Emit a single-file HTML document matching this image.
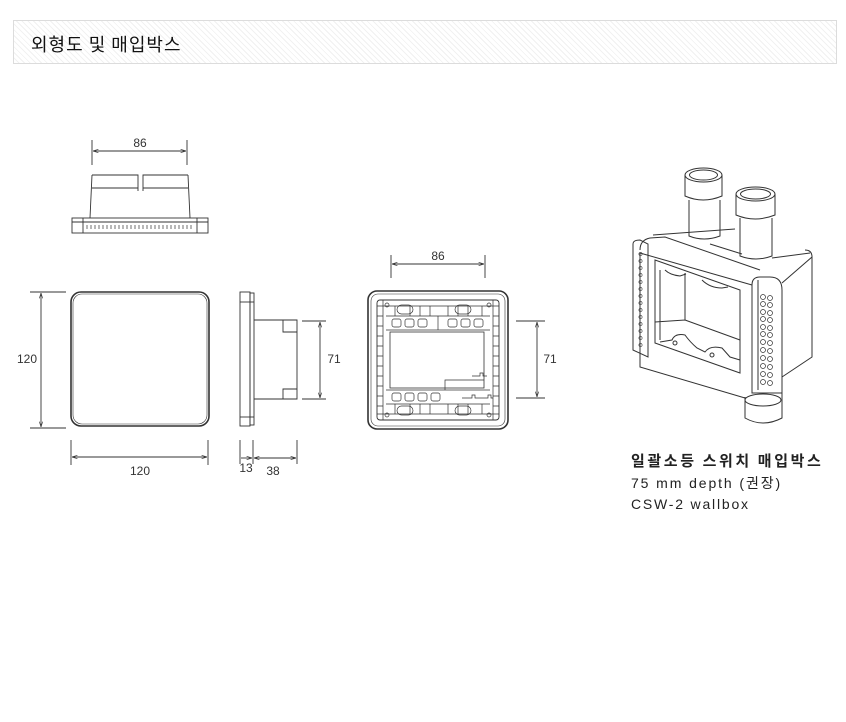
<!DOCTYPE html>
<html><head><meta charset="utf-8"><style>
html,body{margin:0;padding:0;background:#fff;}
body{width:846px;height:722px;position:relative;overflow:hidden;font-family:"Liberation Sans","Noto Sans CJK KR",sans-serif;}
.hdr{position:absolute;left:13px;top:20px;width:822px;height:42px;border:1px solid #dcdcdc;
background:repeating-linear-gradient(45deg,#fff 0 3px,#f1f1f1 3px 4px);}
.hdr span{position:absolute;left:17px;top:10px;font-size:18px;letter-spacing:1px;color:#111;font-family:"Noto Sans CJK KR",sans-serif;}
.cap{position:absolute;left:631px;color:#222;white-space:nowrap;}
</style></head><body>
<div class="hdr"><span>외형도 및 매입박스</span></div>
<svg width="846" height="722" style="position:absolute;left:0;top:0" fill="none" stroke="#333" stroke-width="0.9" font-family="Liberation Sans, sans-serif">
<defs><marker id="a" viewBox="0 0 8 8" refX="8" refY="4" markerWidth="6" markerHeight="6" orient="auto-start-reverse"><path d="M0,1.5 L8,4 L0,6.5" fill="none" stroke="#333"/></marker></defs>
<!-- top view -->
<line x1="92" y1="140" x2="92" y2="165"/><line x1="187" y1="140" x2="187" y2="165"/>
<line x1="93" y1="151" x2="186" y2="151" marker-start="url(#a)" marker-end="url(#a)"/>
<text x="140" y="147" font-size="12" fill="#333" stroke="none" text-anchor="middle">86</text>
<path d="M92,175 H138 V191 M143,191 V175 H188 M92,175 L90,218 M188,175 L190,218 M92,188 H138 M143,188 H188"/>
<rect x="72" y="218" width="136" height="15"/>
<line x1="72" y1="222" x2="208" y2="222"/>
<line x1="83" y1="218" x2="83" y2="233"/><line x1="197" y1="218" x2="197" y2="233"/>
<g stroke-width="0.7">
<path d="M87,225v4 M91,225v4 M95,225v4 M99,225v4 M103,225v4 M107,225v4 M111,225v4 M115,225v4 M119,225v4 M123,225v4 M127,225v4 M131,225v4 M135,225v4 M139,225v4 M143,225v4 M147,225v4 M151,225v4 M155,225v4 M159,225v4 M163,225v4 M167,225v4 M171,225v4 M175,225v4 M179,225v4 M183,225v4 M187,225v4 M191,225v4"/>
</g>
<!-- front -->
<rect x="71" y="292" width="138" height="134" rx="10" stroke-width="1.6"/>
<rect x="73" y="294" width="134" height="130" rx="9" stroke-width="0.6"/>
<line x1="30" y1="292" x2="66" y2="292"/><line x1="30" y1="428" x2="66" y2="428"/>
<line x1="41" y1="293" x2="41" y2="427" marker-start="url(#a)" marker-end="url(#a)"/>
<text x="27" y="363" font-size="12" fill="#333" stroke="none" text-anchor="middle">120</text>
<line x1="71" y1="440" x2="71" y2="465"/><line x1="208" y1="440" x2="208" y2="465"/>
<line x1="72" y1="457" x2="207" y2="457" marker-start="url(#a)" marker-end="url(#a)"/>
<text x="140" y="475" font-size="12" fill="#333" stroke="none" text-anchor="middle">120</text>
<!-- side -->
<rect x="240" y="292" width="10" height="134"/><rect x="250" y="293" width="4" height="132"/>
<line x1="240" y1="302" x2="254" y2="302"/><line x1="240" y1="417" x2="254" y2="417"/>
<path d="M254,320 H297 V399 H254 M283,320 V332 H297 M283,399 V389 H297"/>
<line x1="302" y1="321" x2="326" y2="321"/><line x1="302" y1="399" x2="326" y2="399"/>
<line x1="320" y1="322" x2="320" y2="398" marker-start="url(#a)" marker-end="url(#a)"/>
<text x="334" y="363" font-size="12" fill="#333" stroke="none" text-anchor="middle">71</text>
<line x1="240" y1="440" x2="240" y2="464"/><line x1="253" y1="440" x2="253" y2="464"/><line x1="297" y1="440" x2="297" y2="464"/>
<line x1="241" y1="458" x2="252" y2="458" marker-end="url(#a)"/>
<line x1="254" y1="458" x2="296" y2="458" marker-start="url(#a)" marker-end="url(#a)"/>
<text x="246" y="472" font-size="12" fill="#333" stroke="none" text-anchor="middle">13</text>
<text x="273" y="475" font-size="12" fill="#333" stroke="none" text-anchor="middle">38</text>
<!-- back -->
<line x1="391" y1="255" x2="391" y2="278"/><line x1="485" y1="255" x2="485" y2="278"/>
<line x1="392" y1="264" x2="484" y2="264" marker-start="url(#a)" marker-end="url(#a)"/>
<text x="438" y="260" font-size="12" fill="#333" stroke="none" text-anchor="middle">86</text>
<rect x="368" y="291" width="140" height="138" rx="9" stroke-width="1.6"/>
<rect x="371" y="294" width="134" height="132" rx="7" stroke-width="0.6"/>
<rect x="377" y="300" width="122" height="120" rx="3"/>
<g stroke-width="0.7">
<path d="M383,300 V420 M493,300 V420 M377,306 H499 M377,414 H499"/>
<path d="M377,316h6 M377,326h6 M377,336h6 M377,346h6 M377,356h6 M377,366h6 M377,376h6 M377,386h6 M377,396h6 M377,406h6"/>
<path d="M493,316h6 M493,326h6 M493,336h6 M493,346h6 M493,356h6 M493,366h6 M493,376h6 M493,386h6 M493,396h6 M493,406h6"/>
<path d="M386,316h104 M386,330h104 M386,390h104 M386,404h104"/>
<path d="M395,306v10 M410,306v10 M420,306v10 M430,306v10 M448,306v10 M458,306v10 M468,306v10 M482,306v10"/>
<path d="M395,404v10 M410,404v10 M420,404v10 M430,404v10 M448,404v10 M458,404v10 M468,404v10 M482,404v10"/>
<rect x="392" y="319" width="9" height="8" rx="2"/><rect x="405" y="319" width="9" height="8" rx="2"/><rect x="418" y="319" width="9" height="8" rx="2"/>
<rect x="448" y="319" width="9" height="8" rx="2"/><rect x="461" y="319" width="9" height="8" rx="2"/><rect x="474" y="319" width="9" height="8" rx="2"/>
<line x1="438" y1="316" x2="438" y2="330"/>
<rect x="392" y="393" width="9" height="8" rx="2"/><rect x="405" y="393" width="9" height="8" rx="2"/><rect x="418" y="393" width="9" height="8" rx="2"/><rect x="431" y="393" width="9" height="8" rx="2"/>
<path d="M445,390 V380 H484"/>
<path d="M462,398h10v-3h3v3h4 M478,398h10v-3h3v3h2 M472,376h8v-3h3v3h4"/>
<rect x="397" y="305" width="16" height="9" rx="4.5"/><rect x="455" y="305" width="16" height="9" rx="4.5"/>
<rect x="397" y="406" width="16" height="9" rx="4.5"/><rect x="455" y="406" width="16" height="9" rx="4.5"/>
<circle cx="387" cy="305" r="2"/><circle cx="489" cy="305" r="2"/><circle cx="387" cy="415" r="2"/><circle cx="489" cy="415" r="2"/>
</g>
<rect x="390" y="332" width="94" height="56" stroke-width="0.8"/>
<line x1="516" y1="321" x2="545" y2="321"/><line x1="516" y1="398" x2="545" y2="398"/>
<line x1="537" y1="322" x2="537" y2="397" marker-start="url(#a)" marker-end="url(#a)"/>
<text x="550" y="363" font-size="12" fill="#333" stroke="none" text-anchor="middle">71</text>
<!-- wallbox -->
<g stroke-width="1">
<path d="M653,235 L735,229 M710,244 L742,254 M772,258 L810,253"/>
<path d="M640,250 Q640,240 650,238 L665,237 L760,270"/>
<path d="M782,283 L812,257 L812,357 L782,377"/>
<path d="M812,257 Q812,250 805,250"/>
<path d="M640,253 L752,285 M640,253 V367 L745,398"/>
<path d="M633,244 Q633,240 640,240 L648,244 V357 L633,350 Z"/>
<path d="M655,260 L740,290 V373 L655,343 Z"/>
<path d="M685,273 V320 L740,340 M655,322 L685,320 M660,270 V340"/>
<path d="M660,342 L672,340 Q675,333 685,335 Q690,342 697,348 L705,352 Q710,345 722,348 L730,357 L740,360"/>
<circle cx="675" cy="343" r="2"/><circle cx="712" cy="355" r="2"/>
<path d="M665,270 Q670,275 680,276 L686,274 M702,280 Q710,288 722,288 L728,287"/>
<path d="M752,285 V393 L782,393 V290 Q782,277 770,277 L760,277 Q752,277 752,285 Z"/>
<path d="M758,280 V390"/>
<path d="M745,397 V418 Q763,428 782,418 V393"/>
<ellipse cx="763" cy="400" rx="18" ry="6"/>
<path d="M689,200 V236 Q704,242 720,236 V200"/>
<path d="M685,175 V196 Q703,204 722,196 V175"/>
<ellipse cx="703.5" cy="175" rx="18.5" ry="7" fill="#fff"/><ellipse cx="703.5" cy="175" rx="14" ry="5"/>
<path d="M740,218 V256 Q756,262 772,256 V218"/>
<path d="M736,194 V215 Q755,223 775,215 V194"/>
<ellipse cx="755.5" cy="194" rx="19.5" ry="7" fill="#fff"/><ellipse cx="755.5" cy="194" rx="15" ry="5"/>
</g>
<g stroke-width="0.6">
<circle cx="640.5" cy="254" r="1.6"/><circle cx="640.5" cy="261" r="1.6"/><circle cx="640.5" cy="268" r="1.6"/><circle cx="640.5" cy="275" r="1.6"/>
<circle cx="640.5" cy="282" r="1.6"/><circle cx="640.5" cy="289" r="1.6"/><circle cx="640.5" cy="296" r="1.6"/><circle cx="640.5" cy="303" r="1.6"/>
<circle cx="640.5" cy="310" r="1.6"/><circle cx="640.5" cy="317" r="1.6"/><circle cx="640.5" cy="324" r="1.6"/><circle cx="640.5" cy="331" r="1.6"/>
<circle cx="640.5" cy="338" r="1.6"/><circle cx="640.5" cy="345" r="1.6"/>
</g>
<g stroke-width="0.7">
<circle cx="763" cy="297" r="2.5"/><circle cx="770" cy="298" r="2.5"/>
<circle cx="763" cy="304" r="2.5"/><circle cx="770" cy="305" r="2.5"/>
<circle cx="763" cy="312" r="2.5"/><circle cx="770" cy="313" r="2.5"/>
<circle cx="763" cy="319" r="2.5"/><circle cx="770" cy="320" r="2.5"/>
<circle cx="763" cy="327" r="2.5"/><circle cx="770" cy="328" r="2.5"/>
<circle cx="763" cy="334" r="2.5"/><circle cx="770" cy="335" r="2.5"/>
<circle cx="763" cy="342" r="2.5"/><circle cx="770" cy="343" r="2.5"/>
<circle cx="763" cy="350" r="2.5"/><circle cx="770" cy="351" r="2.5"/>
<circle cx="763" cy="358" r="2.5"/><circle cx="770" cy="359" r="2.5"/>
<circle cx="763" cy="366" r="2.5"/><circle cx="770" cy="367" r="2.5"/>
<circle cx="763" cy="374" r="2.5"/><circle cx="770" cy="375" r="2.5"/>
<circle cx="763" cy="382" r="2.5"/><circle cx="770" cy="383" r="2.5"/>
</g>
</svg>
<div class="cap" style="top:450px;font-size:15px;font-weight:bold;letter-spacing:2.6px;font-family:'Noto Sans CJK KR',sans-serif;">일괄소등 스위치 매입박스</div>
<div class="cap" style="top:473px;font-size:14px;letter-spacing:1.9px;">75 mm depth (권장)</div>
<div class="cap" style="top:496px;font-size:14px;letter-spacing:1.8px;">CSW-2 wallbox</div>
</body></html>
